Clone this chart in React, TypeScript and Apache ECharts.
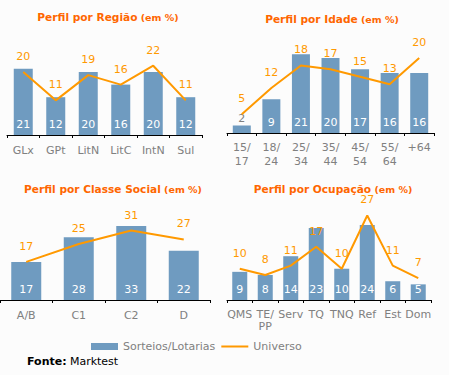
import React, { useEffect, useRef } from "react";
import * as echarts from "echarts";

const regiaoCats = ["GLx", "GPt", "LitN", "LitC", "IntN", "Sul"];
const regiaoBars = [21, 12, 20, 16, 20, 12];
const regiaoLine = [20, 11, 19, 16, 22, 11];

const idadeCats = ["15/\n17", "18/\n24", "25/\n34", "35/\n44", "45/\n54", "55/\n64", "+64"];
const idadeBars = [2, 9, 21, 20, 17, 16, 16];
const idadeLine = [5, 12, 18, 17, 15, 13, 20];

const classeCats = ["A/B", "C1", "C2", "D"];
const classeBars = [17, 28, 33, 22];
const classeLine = [17, 25, 31, 27];

const ocupCats = ["QMS", "TE/\nPP", "Serv", "TQ", "TNQ", "Ref", "Est", "Dom"];
const ocupBars = [9, 8, 14, 23, 10, 24, 6, 5];
const ocupLine = [10, 8, 11, 17, 10, 27, 11, 7];

const titles = [
  "Perfil por Região",
  "Perfil por Idade",
  "Perfil por Classe Social",
  "Perfil por Ocupação",
];

const BAR_NAME = "Sorteios/Lotarias";
const LINE_NAME = "Universo";

const FONT = "'DejaVu Sans', Verdana, sans-serif";
const BAR_COLOR = "#6F9BC0";
const LINE_COLOR = "#FF9900";
const TITLE_COLOR = "#FF6600";
const GRAY = "#808080";

export default function App() {
  const ref = useRef<HTMLDivElement>(null);
  useEffect(() => {
    if (!ref.current) return;
    const chart = echarts.init(ref.current, undefined, { renderer: "svg" });

    const panels = [
      { cats: regiaoCats, bars: regiaoBars, line: regiaoLine, grid: { left: 7, top: 40.5, width: 195, height: 94.5 }, max: 30, barWidth: 19, lh: 14, margin: 8, title: { x: 108, y: 17 } },
      { cats: idadeCats, bars: idadeBars, line: idadeLine, grid: { left: 227, top: 43, width: 207, height: 90 }, max: 24, barWidth: 18, lh: 14, margin: 7, title: { x: 332, y: 19 } },
      { cats: classeCats, bars: classeBars, line: classeLine, grid: { left: 0, top: 210.4, width: 210, height: 89.6 }, max: 40, barWidth: 30, lh: 14, margin: 8, title: { x: 113, y: 189 } },
      { cats: ocupCats, bars: ocupBars, line: ocupLine, grid: { left: 227, top: 212.4, width: 204, height: 87.6 }, max: 28, barWidth: 15, lh: 12, margin: 8, title: { x: 333, y: 189 } },
    ];

    const grids: any[] = [];
    const xAxes: any[] = [];
    const yAxes: any[] = [];
    const series: any[] = [];
    const graphics: any[] = [];

    panels.forEach((p, i) => {
      grids.push({ ...p.grid, containLabel: false });
      xAxes.push({
        type: "category",
        gridIndex: i,
        data: p.cats,
        axisLine: { show: true, lineStyle: { color: "#000", width: 1 } },
        axisTick: { show: true, length: 3, lineStyle: { color: "#000" } },
        axisLabel: {
          interval: 0,
          color: GRAY,
          fontSize: 11,
          fontFamily: FONT,
          margin: p.margin,
          lineHeight: p.lh,
        },
        splitLine: { show: false },
      });
      yAxes.push({
        type: "value",
        gridIndex: i,
        min: 0,
        max: p.max,
        show: false,
        splitLine: { show: false },
      });
      series.push({
        type: "bar",
        name: BAR_NAME,
        xAxisIndex: i,
        yAxisIndex: i,
        barWidth: p.barWidth,
        itemStyle: { color: BAR_COLOR },
        data: p.bars.map((v) =>
          v < 4
            ? { value: v, label: { color: GRAY, position: "insideBottom", distance: 9 } }
            : v
        ),
        label: {
          show: true,
          position: "insideBottom",
          distance: 5,
          color: "#fff",
          fontSize: 11,
          fontFamily: FONT,
        },
        z: 2,
      });
      series.push({
        type: "line",
        name: LINE_NAME,
        xAxisIndex: i,
        yAxisIndex: i,
        data: p.line,
        symbol: "circle",
        symbolSize: 0.1,
        showSymbol: true,
        lineStyle: { color: LINE_COLOR, width: 2 },
        itemStyle: { color: LINE_COLOR },
        label: {
          show: true,
          position: "top",
          distance: 10,
          color: LINE_COLOR,
          fontSize: 11,
          fontFamily: FONT,
        },
        z: 3,
      });
      graphics.push({
        type: "text",
        x: p.title.x,
        y: p.title.y,
        style: {
          text: `{a|${titles[i]}} {b|(em %)}`,
          align: "center",
          verticalAlign: "middle",
          rich: {
            a: { fontSize: 10.6, fontWeight: "bold", fill: TITLE_COLOR, color: TITLE_COLOR, fontFamily: FONT },
            b: { fontSize: 9.5, fontWeight: "bold", fill: TITLE_COLOR, color: TITLE_COLOR, fontFamily: FONT },
          },
        },
      });
    });

    graphics.push({
      type: "text",
      x: 27,
      y: 361,
      style: {
        text: "{a|Fonte:} {b|Marktest}",
        verticalAlign: "middle",
        rich: {
          a: { fontSize: 11, fontWeight: "bold", color: "#000", fill: "#000", fontFamily: FONT },
          b: { fontSize: 11, color: "#000", fill: "#000", fontFamily: FONT },
        },
      },
    });

    chart.setOption({
      animation: false,
      backgroundColor: "#FCFCFC",
      textStyle: { fontFamily: FONT },
      grid: grids,
      xAxis: xAxes,
      yAxis: yAxes,
      series,
      legend: {
        left: 86,
        top: 336,
        itemWidth: 27,
        itemHeight: 7,
        itemGap: 5,
        data: [
          { name: BAR_NAME, icon: "rect" },
          { name: LINE_NAME, itemStyle: { opacity: 0 }, lineStyle: { color: LINE_COLOR, width: 2 } },
        ],
        textStyle: { color: GRAY, fontSize: 11, fontFamily: FONT },
      },
      graphic: graphics,
    });
    return () => chart.dispose();
  }, []);
  return (
    <div
      ref={ref}
      style={{ position: "fixed", left: 0, top: 0, width: 449, height: 375 }}
    />
  );
}
